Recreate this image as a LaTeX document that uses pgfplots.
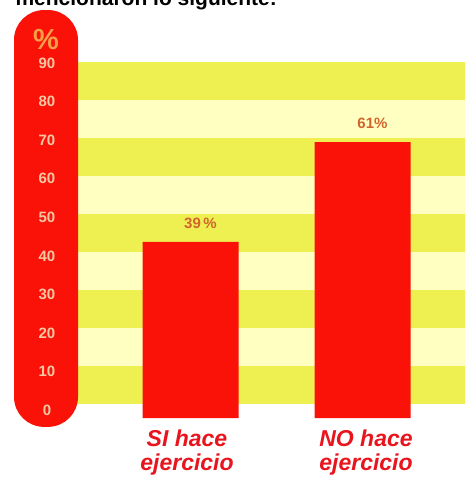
\documentclass[border=0pt]{standalone}
\usepackage{fontspec}
\setmainfont{Liberation Sans}
\usepackage{pgfplots}
\pgfplotsset{compat=1.18}

\definecolor{barred}{HTML}{FA1208}
\definecolor{stripedark}{HTML}{EDF050}
\definecolor{stripelight}{HTML}{FFFFC2}
\definecolor{ticktext}{HTML}{F7C7A4}
\definecolor{pcttext}{HTML}{F7A048}
\definecolor{valtext}{HTML}{D2642E}
\definecolor{cattext}{HTML}{E8141E}

% y runs in units of 3.86pt, 0 at the foot of the bars
\begin{document}
\begin{tikzpicture}
\begin{axis}[
    set layers,
    scale only axis,
    width=465pt, height=418pt,
    xmin=0, xmax=465,
    ymin=0, ymax=108.3,
    clip=false,
    axis line style={draw=none},
    major tick style={draw=none},
    ybar,
    bar width=96,
    ytick={2,12,22,32,42,52,62,72,82,92},
    yticklabels={0,10,20,30,40,50,60,70,80,90},
    yticklabel style={anchor=center, xshift=47pt, text=ticktext,
        font=\fontsize{15}{15}\selectfont\bfseries},
    xtick={187,366},
    xticklabels={SI hace\\ejercicio, NO hace\\ejercicio},
    xticklabel style={align=center, anchor=north, yshift=-4pt, text=cattext,
        font=\fontsize{23}{24}\selectfont\bfseries\itshape},
    /pgf/number format/assume math mode=true,
    nodes near coords,
    point meta=explicit symbolic,
    nodes near coords style={anchor=center, yshift=19pt, xshift=10pt,
        text=valtext, font=\fontsize{15}{15}\selectfont\bfseries},
]
\begin{pgfonlayer}{axis background}
% striped background
\fill[stripelight] (axis cs:70,3.6) rectangle (axis cs:465,92.2);
\fill[stripedark] (axis cs:70,82.4) rectangle (axis cs:465,92.2);
\fill[stripedark] (axis cs:70,62.7) rectangle (axis cs:465,72.5);
\fill[stripedark] (axis cs:70,43.0) rectangle (axis cs:465,52.8);
\fill[stripedark] (axis cs:70,23.3) rectangle (axis cs:465,33.2);
\fill[stripedark] (axis cs:70,3.6) rectangle (axis cs:465,13.5);
% red scale column
\fill[barred, rounded corners=30pt] (axis cs:14,-2.3) rectangle (axis cs:78,105.7);
\end{pgfonlayer}
\node[text=pcttext, font=\fontsize{29}{29}\selectfont\bfseries] at (axis cs:46,98) {\%};

\addplot[fill=barred, draw=none] coordinates {
    (190.5,45.6) [39\,\%]
    (362.5,71.5) [61\%]
};

\node[anchor=base west, font=\fontsize{21}{21}\selectfont\bfseries]
    at (axis cs:12,107) {mencionaron lo siguiente:};
\end{axis}
\pgfresetboundingbox
\path ([yshift=-61pt]current axis.south west) rectangle (current axis.north east);
\end{tikzpicture}
\end{document}
